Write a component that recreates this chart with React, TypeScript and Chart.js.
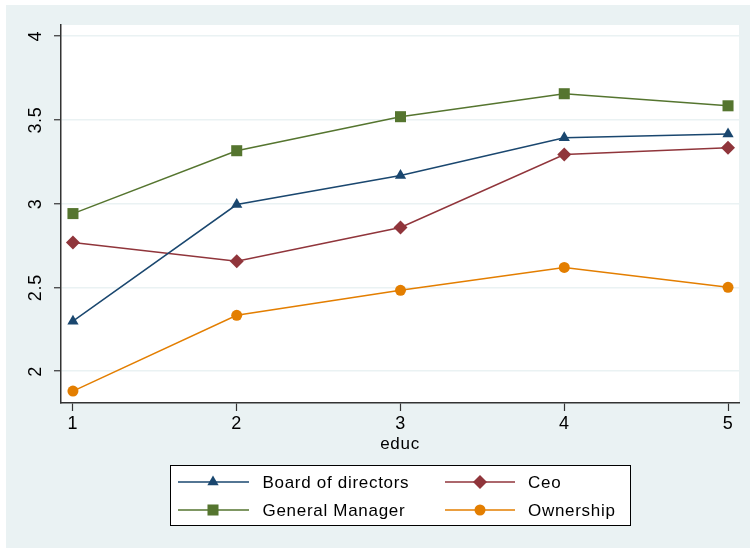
import React, { useEffect, useRef } from "react";
import { Chart, registerables } from "chart.js";

Chart.register(...registerables);

const categories = [1, 2, 3, 4, 5];
const boardOfDirectors = [2.298, 2.994, 3.167, 3.393, 3.415];
const ceo = [2.768, 2.655, 2.857, 3.292, 3.333];
const generalManager = [2.94, 3.315, 3.518, 3.655, 3.583];
const ownership = [1.881, 2.333, 2.482, 2.619, 2.5];
const yTicks = [2, 2.5, 3, 3.5, 4];
const xTickLabels = ["1", "2", "3", "4", "5"];

const NAVY = "#1a476f";
const MAROON = "#90353b";
const GREEN = "#55752f";
const ORANGE = "#e37e00";
const BG = "rgb(234,242,243)";
const FONT = "'Liberation Sans', Arial, Helvetica, sans-serif";
const SPACING = "0.7px";

type Series = { label: string; data: number[]; color: string; style: string; radius: number };
const seriesList: Series[] = [
  { label: "Board of directors", data: boardOfDirectors, color: NAVY, style: "triangle", radius: 6.5 },
  { label: "Ceo", data: ceo, color: MAROON, style: "rectRot", radius: 7 },
  { label: "General Manager", data: generalManager, color: GREEN, style: "rect", radius: 7.8 },
  { label: "Ownership", data: ownership, color: ORANGE, style: "circle", radius: 5.5 },
];

function drawMarker(ctx: CanvasRenderingContext2D, style: string, x: number, y: number, r: number, color: string) {
  ctx.save();
  ctx.fillStyle = color;
  ctx.beginPath();
  if (style === "circle") {
    ctx.arc(x, y, r, 0, Math.PI * 2);
  } else if (style === "rect") {
    const s = r * Math.SQRT1_2;
    ctx.rect(x - s, y - s, 2 * s, 2 * s);
  } else if (style === "rectRot") {
    ctx.moveTo(x, y - r);
    ctx.lineTo(x + r, y);
    ctx.lineTo(x, y + r);
    ctx.lineTo(x - r, y);
    ctx.closePath();
  } else if (style === "triangle") {
    const a = (Math.PI * 2) / 3;
    ctx.moveTo(x, y - r);
    ctx.lineTo(x + Math.sin(a) * r, y - Math.cos(a) * r);
    ctx.lineTo(x - Math.sin(a) * r, y - Math.cos(a) * r);
    ctx.closePath();
  }
  ctx.fill();
  ctx.restore();
}

const backgroundPlugin = {
  id: "stataBackground",
  beforeDraw(chart: any) {
    const { ctx, chartArea, width, height } = chart;
    (ctx as any).letterSpacing = SPACING;
    ctx.save();
    ctx.fillStyle = "#ffffff";
    ctx.fillRect(0, 0, width, height);
    ctx.fillStyle = BG;
    ctx.fillRect(6, 5, width - 6, height - 5);
    ctx.fillStyle = "#ffffff";
    ctx.fillRect(chartArea.left, chartArea.top, chartArea.right - chartArea.left, chartArea.bottom - chartArea.top);
    ctx.restore();
  },
};

const overlayPlugin = {
  id: "stataOverlay",
  afterDraw(chart: any) {
    const { ctx } = chart;
    const yScale = chart.scales.y;
    // rotated y tick labels
    ctx.save();
    (ctx as any).letterSpacing = SPACING;
    ctx.fillStyle = "#000";
    ctx.font = `18px ${FONT}`;
    ctx.textAlign = "center";
    ctx.textBaseline = "alphabetic";
    yScale.ticks.forEach((t: any) => {
      const py = yScale.getPixelForValue(t.value);
      ctx.save();
      ctx.translate(40.5, py + 0.35);
      ctx.rotate(-Math.PI / 2);
      ctx.fillText(String(t.value), 0, 0);
      ctx.restore();
    });
    ctx.restore();

    // legend
    ctx.save();
    (ctx as any).letterSpacing = SPACING;
    ctx.fillStyle = "#ffffff";
    ctx.fillRect(170, 465, 461, 61);
    ctx.strokeStyle = "#000";
    ctx.lineWidth = 1;
    ctx.strokeRect(170.5, 465.5, 460, 60);
    const cols = [
      { x0: 178, x1: 249, mx: 213, tx: 262.5 },
      { x0: 445, x1: 515, mx: 480, tx: 528 },
    ];
    const rows = [482, 510];
    seriesList.forEach((s, i) => {
      const c = cols[i % 2];
      const y = rows[Math.floor(i / 2)];
      ctx.strokeStyle = s.color;
      ctx.lineWidth = 1.5;
      ctx.beginPath();
      ctx.moveTo(c.x0, y);
      ctx.lineTo(c.x1, y);
      ctx.stroke();
      drawMarker(ctx, s.style, c.mx, y, s.radius, s.color);
      ctx.fillStyle = "#000";
      ctx.font = `17px ${FONT}`;
      ctx.textAlign = "left";
      ctx.textBaseline = "alphabetic";
      ctx.fillText(s.label, c.tx, y + 6.2);
    });
    ctx.restore();
  },
};

export default function App() {
  const ref = useRef<HTMLCanvasElement | null>(null);

  useEffect(() => {
    if (!ref.current) return;
    const chart = new Chart(ref.current, {
      type: "line",
      data: {
        datasets: seriesList.map((s) => ({
          label: s.label,
          data: categories.map((c, i) => ({ x: c, y: s.data[i] })),
          borderColor: s.color,
          backgroundColor: s.color,
          borderWidth: 1.5,
          pointStyle: s.style as any,
          pointRadius: s.radius,
          pointBorderWidth: 0,
          pointBackgroundColor: s.color,
          pointBorderColor: s.color,
          tension: 0,
          fill: false,
        })),
      },
      options: {
        animation: false,
        responsive: false,
        devicePixelRatio: 1,
        layout: { padding: { top: 25, right: 11, bottom: 85, left: 0 } },
        plugins: { legend: { display: false }, tooltip: { enabled: false }, title: { display: false } },
        scales: {
          x: {
            type: "linear",
            min: 0.927,
            max: 5.067,
            afterBuildTicks: (scale: any) => {
              scale.ticks = categories.map((v) => ({ value: v }));
            },
            afterFit: (scale: any) => {
              scale.height = 60;
            },
            ticks: {
              callback: (v: any) => xTickLabels[categories.indexOf(Number(v))] ?? "",
              color: "#000",
              font: { family: FONT, size: 18 },
              padding: 2,
              maxRotation: 0,
              autoSkip: false,
            },
            grid: {
              drawOnChartArea: false,
              drawTicks: true,
              tickLength: 8,
              tickColor: "#333",
              tickWidth: 1.2,
            },
            border: { display: true, color: "#333", width: 1.5 },
            title: {
              display: true,
              text: "educ",
              color: "#000",
              font: { family: FONT, size: 17 },
              padding: { top: 0, bottom: 8 },
            },
          },
          y: {
            type: "linear",
            min: 1.81,
            max: 4.065,
            afterBuildTicks: (scale: any) => {
              scale.ticks = yTicks.map((v) => ({ value: v }));
            },
            afterFit: (scale: any) => {
              scale.width = 61;
            },
            ticks: { display: false },
            grid: {
              color: BG,
              lineWidth: 1.5,
              drawTicks: true,
              tickLength: 7,
              tickColor: "#333",
              tickWidth: 1.2,
            },
            border: { display: true, color: "#333", width: 1.5 },
          },
        },
      },
      plugins: [backgroundPlugin, overlayPlugin],
    });
    return () => chart.destroy();
  }, []);

  return (
    <div style={{ position: "absolute", left: 0, top: 0, width: 750, height: 548, background: "#fff" }}>
      <canvas ref={ref} width={750} height={548} style={{ display: "block", width: 750, height: 548 }} />
    </div>
  );
}
